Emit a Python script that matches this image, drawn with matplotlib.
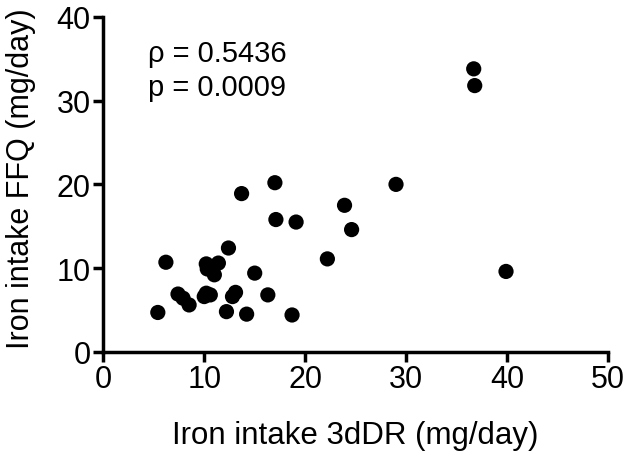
import matplotlib.pyplot as plt

plt.rcParams['font.family'] = ['Liberation Sans', 'DejaVu Sans']

# iron intake, 3-day dietary record vs food frequency questionnaire (mg/day)
iron_3ddr = [5.4, 6.2, 7.4, 7.9, 8.5, 10.0, 10.2, 10.6, 10.2, 10.3, 10.7, 11.0, 11.4,
             12.4, 12.2, 12.8, 13.1, 13.7, 14.2, 15.0, 16.3, 17.0, 17.1, 18.7, 19.1,
             22.2, 23.9, 24.6, 29.0, 36.7, 36.8, 39.9]
iron_ffq = [4.7, 10.7, 6.9, 6.4, 5.6, 6.6, 7.0, 6.8, 10.5, 9.9, 10.0, 9.2, 10.6,
            12.4, 4.8, 6.6, 7.1, 18.9, 4.5, 9.4, 6.8, 20.2, 15.8, 4.4, 15.5,
            11.1, 17.5, 14.6, 20.0, 33.8, 31.8, 9.6]

fig = plt.figure(figsize=(6.3, 4.6), dpi=100)
ax = fig.add_axes([0.164, 0.233, 0.801, 0.728])

ax.scatter(iron_3ddr, iron_ffq, s=120, color='black', edgecolors='none', zorder=3)

ax.set_xlim(0, 50)
ax.set_ylim(0, 40)
ax.set_xticks([0, 10, 20, 30, 40, 50])
ax.set_yticks([0, 10, 20, 30, 40])

for side in ['top', 'right']:
    ax.spines[side].set_visible(False)
for side in ['left', 'bottom']:
    ax.spines[side].set_linewidth(2.5)
ax.tick_params(width=2.5, length=7, labelsize=22, pad=2)

ax.set_xlabel('Iron intake 3dDR (mg/day)', fontsize=22.5)
ax.set_ylabel('Iron intake FFQ (mg/day)', fontsize=22)
ax.xaxis.set_label_coords(0.5, -0.205)
ax.yaxis.set_label_coords(-0.133, 0.52)

ax.text(4.4, 35.7, '\u03c1 = 0.5436', fontsize=21, va='center')
ax.text(4.4, 31.6, 'p = 0.0009', fontsize=21, va='center')

fig.savefig('out.png', dpi=100)
